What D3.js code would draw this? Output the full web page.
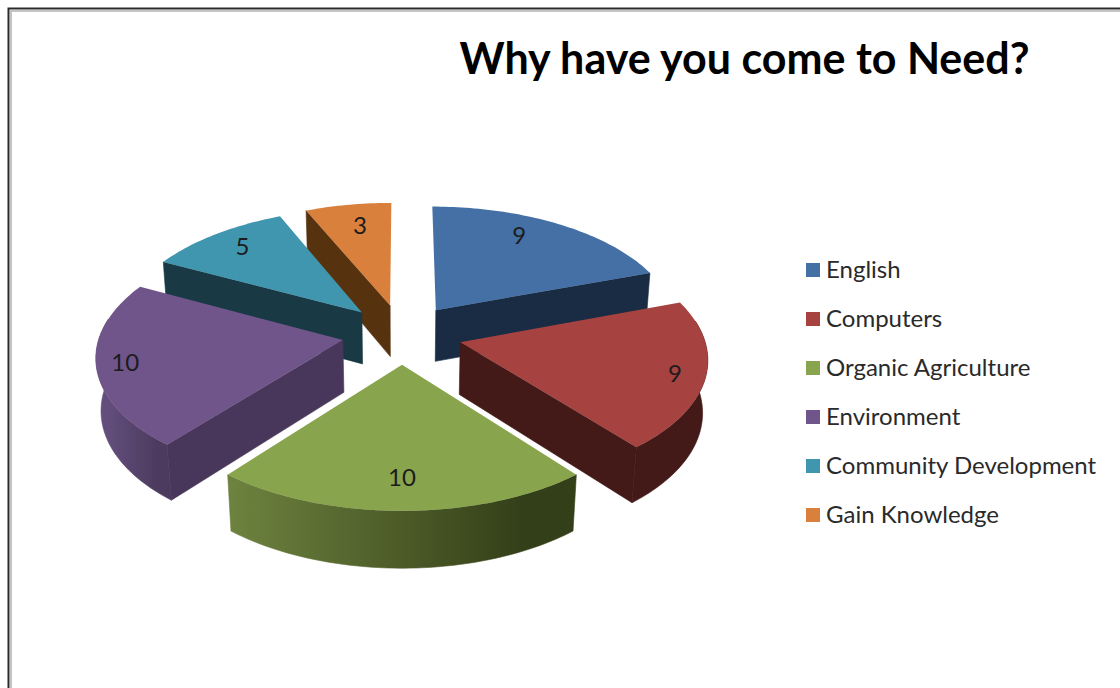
<!DOCTYPE html>
<html>
<head>
<meta charset="utf-8">
<script src="https://cdn.jsdelivr.net/npm/d3@7/dist/d3.min.js"></script>
<style>
  html, body { margin: 0; padding: 0; background: #fff; }
  svg { display: block; }
  text { font-family: Lato, "Open Sans", sans-serif; }
</style>
</head>
<body>
<svg id="chart" width="1120" height="688"></svg>
<script>
// Survey answers
const chartTitle = "Why have you come to Need?";
const categories = ["English", "Computers", "Organic Agriculture", "Environment", "Community Development", "Gain Knowledge"];
const responses = [9, 9, 10, 10, 5, 3];

// Palette for each slice: top face, flat cut face, rim gradient ends
const topColors = ["#4470a6", "#a64240", "#88a44c", "#70558b", "#4096ae", "#d9813c"];
const wallColors = ["#1a2c44", "#431a18", "#33401a", "#48375a", "#193945", "#57320f"];
const rimLight = ["#1a2c44", "#431a18", "#6e833f", "#624d7c", "#193945", "#57320f"];
const rimDark = ["#1a2c44", "#431a18", "#333f18", "#4c3b5e", "#193945", "#57320f"];

// Where each value label rests on its face: share of the radius, turn in degrees from mid-slice
const labelReach = [0.80, 0.88, 0.795, 0.885, 0.82, 0.77];
const labelTurn = [-6, 1, 0, 0, 1, 1];

const width = 1120, height = 688;
const svg = d3.select("#chart");

// Camera: a tilted perspective view of the pie's ground plane
const centerX = 402, centerY = 334;
const radius = 243, explode = 60, thickness = 61;
const sinTilt = 0.498, cosTilt = Math.sqrt(1 - sinTilt * sinTilt), viewDistance = 1790;

function project(x, y, z) {
  const s = viewDistance / (viewDistance - y * cosTilt - z * sinTilt);
  return [centerX + x * s, centerY + (y * sinTilt - z * cosTilt) * s];
}

const slices = d3.pie().sort(null).value(d => d)(responses).map((arc, i) => {
  const mid = (arc.startAngle + arc.endAngle) / 2;
  const ox = explode * Math.sin(mid), oy = -explode * Math.cos(mid);
  const at = (angle, r, z) => project(ox + r * Math.sin(angle), oy - r * Math.cos(angle), z);
  return { i, value: arc.value, start: arc.startAngle, end: arc.endAngle, mid, oy, at };
});

const sweep = (a0, a1) => {
  const n = Math.max(2, Math.ceil((a1 - a0) / 0.02));
  return d3.range(n + 1).map(k => a0 + (a1 - a0) * k / n);
};
const outline = d3.line().curve(d3.curveLinearClosed);

// The rim stays visible slightly past the sides of the pie because of the perspective
const rimFrom = Math.PI * 80 / 180, rimTo = Math.PI * 280 / 180;

// Rim gradients run across each slice's front edge
const defs = svg.append("defs");
slices.forEach(s => {
  const a0 = Math.max(s.start, rimFrom), a1 = Math.min(s.end, rimTo);
  if (a1 <= a0) return;
  const p0 = s.at(a1, radius, 0), p1 = s.at(a0, radius, 0);
  const g = defs.append("linearGradient").attr("id", "rim" + s.i)
    .attr("gradientUnits", "userSpaceOnUse")
    .attr("x1", p0[0]).attr("x2", p1[0]).attr("y1", 0).attr("y2", 0);
  g.append("stop").attr("offset", 0).attr("stop-color", rimLight[s.i]);
  g.append("stop").attr("offset", 0.85).attr("stop-color", rimDark[s.i]);
  g.append("stop").attr("offset", 1).attr("stop-color", rimDark[s.i]);
});

// Window frame along the top and left edges
svg.append("path").attr("d", "M11,688V11H1120").attr("fill", "none").attr("stroke", "#c4c4c4").attr("stroke-width", 2);
svg.append("path").attr("d", "M8.5,688V8.5H1120").attr("fill", "none").attr("stroke", "#2b2b2b").attr("stroke-width", 2);

// Title
svg.append("text").attr("x", 744.5).attr("y", 74).attr("text-anchor", "middle")
  .attr("font-size", 43).attr("font-weight", 700).attr("fill", "#000")
  .text(chartTitle);

// Slices are painted from the back of the pie towards the viewer
const pieGroup = svg.append("g");
d3.sort(slices, s => s.oy).forEach(s => {
  const g = pieGroup.append("g").attr("class", "slice");
  const a0 = Math.max(s.start, rimFrom), a1 = Math.min(s.end, rimTo);
  if (a1 > a0) {
    const angles = sweep(a0, a1);
    const rim = angles.map(a => s.at(a, radius, 0))
      .concat(angles.slice().reverse().map(a => s.at(a, radius, -thickness)));
    g.append("path").attr("d", outline(rim)).attr("fill", `url(#rim${s.i})`)
      .attr("stroke", `url(#rim${s.i})`).attr("stroke-width", 0.6);
  }
  // A cut face shows only when its outward normal points at the viewer
  const walls = [];
  if (Math.sin(s.start) < -1e-6) walls.push(s.start);
  if (Math.sin(s.end) > 1e-6) walls.push(s.end);
  walls.forEach(angle => {
    const wall = [s.at(0, 0, 0), s.at(angle, radius, 0), s.at(angle, radius, -thickness), s.at(0, 0, -thickness)];
    g.append("path").attr("d", outline(wall)).attr("fill", wallColors[s.i])
      .attr("stroke", wallColors[s.i]).attr("stroke-width", 0.6);
  });
  const face = [s.at(0, 0, 0)].concat(sweep(s.start, s.end).map(a => s.at(a, radius, 0)));
  g.append("path").attr("d", outline(face)).attr("fill", topColors[s.i]);
});

// Value labels sit on the top faces near the outer edge
slices.forEach(s => {
  const p = s.at(s.mid + labelTurn[s.i] * Math.PI / 180, radius * labelReach[s.i], 0);
  svg.append("text").attr("x", p[0]).attr("y", p[1]).attr("dy", "0.35em")
    .attr("text-anchor", "middle").attr("font-size", 24).attr("fill", "#1c1c1c")
    .text(s.value);
});

// Legend
const legendY = d3.scalePoint().domain(categories).range([270, 515]);
const legend = svg.append("g").selectAll("g").data(categories).join("g")
  .attr("transform", d => `translate(806,${legendY(d)})`);
legend.append("rect").attr("x", 0).attr("y", -7).attr("width", 14).attr("height", 14)
  .attr("fill", (d, i) => topColors[i]);
legend.append("text").attr("x", 20).attr("dy", "0.35em")
  .attr("font-size", 24).attr("fill", "#2a2a2a").text(d => d);
</script>
</body>
</html>
